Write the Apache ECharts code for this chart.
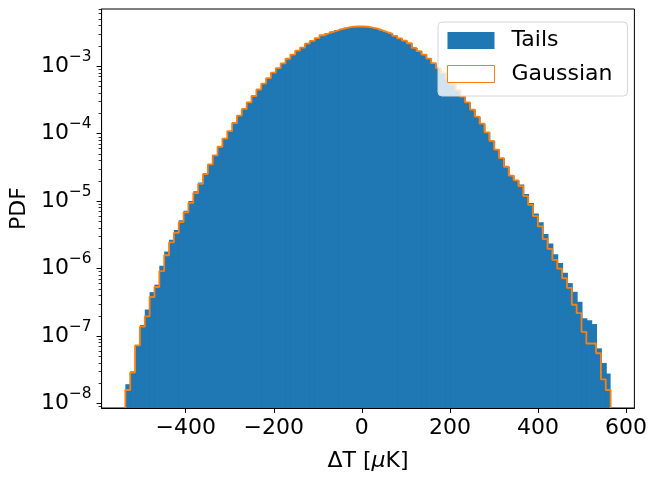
<!doctype html>
<html>
<head>
<meta charset="utf-8">
<script src="https://cdn.jsdelivr.net/npm/echarts@6/dist/echarts.min.js"></script>
<style>
html, body { margin: 0; padding: 0; background: #fff; }
#main { width: 650px; height: 477px; }
</style>
</head>
<body>
<div id="main"></div>
<script>
// histogram bins: 100 equal bins
var binStart = -537;
var binWidth = 11.02;

// PDF per bin
var tails = [
    1.94e-8, 3.01e-8, 7.28e-8, 1.46e-7, 2.48e-7, 4.49e-7, 5.79e-7, 1.10e-6, 1.80e-6, 2.68e-6,
    3.73e-6, 5.20e-6, 7.23e-6, 1.01e-5, 1.40e-5, 1.89e-5, 2.60e-5, 3.51e-5, 4.76e-5, 6.41e-5,
    8.45e-5, 1.09e-4, 1.39e-4, 1.85e-4, 2.33e-4, 2.91e-4, 3.62e-4, 4.52e-4, 5.51e-4, 6.65e-4,
    8.02e-4, 9.35e-4, 1.10e-3, 1.29e-3, 1.49e-3, 1.70e-3, 1.89e-3, 2.16e-3, 2.37e-3, 2.61e-3,
    2.88e-3, 3.08e-3, 3.26e-3, 3.44e-3, 3.60e-3, 3.72e-3, 3.85e-3, 3.88e-3, 3.88e-3, 3.85e-3,
    3.72e-3, 3.60e-3, 3.40e-3, 3.21e-3, 3.05e-3, 2.82e-3, 2.58e-3, 2.39e-3, 2.19e-3, 1.87e-3,
    1.68e-3, 1.49e-3, 1.30e-3, 1.11e-3, 9.35e-4, 7.92e-4, 6.58e-4, 5.38e-4, 4.42e-4, 3.55e-4,
    2.91e-4, 2.28e-4, 1.79e-4, 1.41e-4, 1.05e-4, 7.83e-5, 5.81e-5, 4.36e-5, 3.24e-5, 2.40e-5,
    2.04e-5, 1.77e-5, 1.28e-5, 9.42e-6, 6.55e-6, 4.86e-6, 3.27e-6, 2.35e-6, 1.63e-6, 1.21e-6,
    8.71e-7, 6.11e-7, 4.54e-7, 3.23e-7, 1.84e-7, 1.72e-7, 1.51e-7, 6.59e-8, 4.01e-8, 2.79e-8
];
var gauss = [
    1.59e-8, 2.88e-8, 7.28e-8, 1.38e-7, 1.96e-7, 3.80e-7, 5.35e-7, 9.20e-7, 1.58e-6, 2.45e-6,
    3.38e-6, 4.91e-6, 6.84e-6, 9.42e-6, 1.32e-5, 1.81e-5, 2.52e-5, 3.51e-5, 4.76e-5, 6.41e-5,
    8.45e-5, 1.09e-4, 1.44e-4, 1.85e-4, 2.33e-4, 2.91e-4, 3.62e-4, 4.52e-4, 5.51e-4, 6.65e-4,
    8.02e-4, 9.35e-4, 1.10e-3, 1.29e-3, 1.49e-3, 1.70e-3, 1.89e-3, 2.16e-3, 2.37e-3, 2.61e-3,
    2.88e-3, 3.08e-3, 3.26e-3, 3.44e-3, 3.60e-3, 3.72e-3, 3.85e-3, 3.88e-3, 3.88e-3, 3.85e-3,
    3.72e-3, 3.60e-3, 3.40e-3, 3.21e-3, 3.05e-3, 2.82e-3, 2.58e-3, 2.39e-3, 2.19e-3, 1.87e-3,
    1.68e-3, 1.49e-3, 1.30e-3, 1.11e-3, 9.35e-4, 7.92e-4, 6.58e-4, 5.38e-4, 4.42e-4, 3.55e-4,
    2.91e-4, 2.28e-4, 1.79e-4, 1.41e-4, 1.05e-4, 7.83e-5, 5.81e-5, 4.36e-5, 3.24e-5, 2.40e-5,
    2.04e-5, 1.67e-5, 1.19e-5, 8.81e-6, 6.00e-6, 4.22e-6, 2.74e-6, 1.97e-6, 1.35e-6, 1.00e-6,
    7.21e-7, 5.18e-7, 2.92e-7, 2.19e-7, 1.16e-7, 7.78e-8, 7.78e-8, 5.58e-8, 2.29e-8, 1.59e-8
];

var xTicks = [-400, -200, 0, 200, 400, 600];
var yTicks = [1e-8, 1e-7, 1e-6, 1e-5, 1e-4, 1e-3];
var xMin = -591, xMax = 619;
var yMin = 8.61e-9, yMax = 7.05e-3;

var FONT = 'DejaVu Sans';
var BLUE = '#1f77b4', ORANGE = '#ff7f0e';

// log minor ticks 2..9 x 10^n
var yMinor = [];
for (var n = -9; n <= -3; n++) {
    for (var k = 2; k <= 9; k++) {
        var v = k * Math.pow(10, n);
        if (v > yMin && v < yMax) yMinor.push(v);
    }
}

var edges = [];
for (var i = 0; i <= tails.length; i++) edges.push(binStart + i * binWidth);

var barData = tails.map(function (v, i) { return [edges[i], edges[i + 1], v]; });

var stepData = [[edges[0], yMin]];
gauss.forEach(function (v, i) { stepData.push([edges[i], v]); });
stepData.push([edges[edges.length - 1], gauss[gauss.length - 1]]);
stepData.push([edges[edges.length - 1], yMin]);

function minus(s) { return String(s).replace('-', '\u2212'); }

var chart = echarts.init(document.getElementById('main'));

chart.setOption({
    animation: false,
    backgroundColor: '#fff',
    grid: {
        left: 100, right: 12, top: 9, bottom: 56.5,
        show: true, borderColor: '#000', borderWidth: 1, backgroundColor: 'transparent'
    },
    legend: {
        orient: 'vertical',
        left: 438, top: 22,
        itemWidth: 47, itemHeight: 17, itemGap: 11.5,
        padding: [7.5, 15, 11, 9],
        backgroundColor: 'rgba(255,255,255,0.8)',
        borderColor: '#d6d6d6', borderWidth: 1, borderRadius: 4,
        textStyle: { fontFamily: FONT, fontSize: 22, lineHeight: 22, color: '#000', padding: [0, 0, 0, 12] },
        data: [
            { name: 'Tails', icon: 'rect', itemStyle: { color: BLUE, borderWidth: 0 } },
            { name: 'Gaussian', icon: 'rect', itemStyle: { color: '#fff', borderColor: ORANGE, borderWidth: 1 } }
        ]
    },
    xAxis: {
        type: 'value', min: xMin, max: xMax, z: 10,
        splitLine: { show: false },
        axisLine: { onZero: false, lineStyle: { color: '#000', width: 1 } },
        axisTick: { customValues: xTicks, length: 5, lineStyle: { color: '#000', width: 1 } },
        axisLabel: {
            customValues: xTicks, margin: 9.5,
            fontFamily: FONT, fontSize: 22, color: '#000',
            formatter: function (v) { return minus(v); }
        },
        name: '\u0394T [{i|\u03bc}K]', nameLocation: 'middle', nameGap: 42,
        nameTextStyle: {
            fontFamily: FONT, fontSize: 22, color: '#000',
            rich: { i: { fontFamily: FONT, fontSize: 22, fontStyle: 'italic', color: '#000' } }
        }
    },
    yAxis: [{
        type: 'log', min: yMin, max: yMax, z: 10,
        splitLine: { show: false },
        axisLine: { show: true, onZero: false, lineStyle: { color: '#000', width: 1 } },
        axisTick: { customValues: yTicks, length: 5, lineStyle: { color: '#000', width: 1 } },
        axisLabel: {
            customValues: yTicks, margin: 10,
            fontFamily: FONT, color: '#000',
            padding: [0, 0, 6, 0],
            formatter: function (v) {
                var e = Math.round(Math.log10(v));
                return '{b|10}{s|' + minus(e) + '}';
            },
            rich: {
                b: { fontFamily: FONT, fontSize: 22, lineHeight: 22, verticalAlign: 'bottom', color: '#000' },
                s: { fontFamily: FONT, fontSize: 15.4, lineHeight: 28, verticalAlign: 'top', color: '#000' }
            }
        },
        name: 'PDF', nameLocation: 'middle', nameGap: 65,
        nameTextStyle: { fontFamily: FONT, fontSize: 22, color: '#000' }
    }, {
        type: 'log', min: yMin, max: yMax, position: 'left', z: 10,
        splitLine: { show: false },
        axisLine: { show: false, onZero: false },
        axisLabel: { show: false },
        axisTick: { customValues: yMinor, length: 3, lineStyle: { color: '#000', width: 0.8 } }
    }],
    series: [{
        name: 'Tails',
        type: 'custom',
        data: barData,
        encode: { x: [0, 1], y: 2 },
        clip: true,
        silent: true,
        itemStyle: { color: BLUE },
        renderItem: function (params, api) {
            var top = api.coord([api.value(0), api.value(2)]);
            var bot = api.coord([api.value(1), yMin]);
            // overlap the next bar by 1px so no seams show
            var extra = params.dataIndex < tails.length - 1 ? 1 : 0;
            return {
                type: 'rect',
                shape: { x: top[0], y: top[1], width: bot[0] - top[0] + extra, height: bot[1] - top[1] },
                style: { fill: BLUE }
            };
        }
    }, {
        name: 'Gaussian',
        type: 'line',
        step: 'end',
        data: stepData,
        symbol: 'none',
        silent: true,
        itemStyle: { color: ORANGE },
        lineStyle: { color: ORANGE, width: 1.8 }
    }]
});

window.onresize = chart.resize;
</script>
</body>
</html>
